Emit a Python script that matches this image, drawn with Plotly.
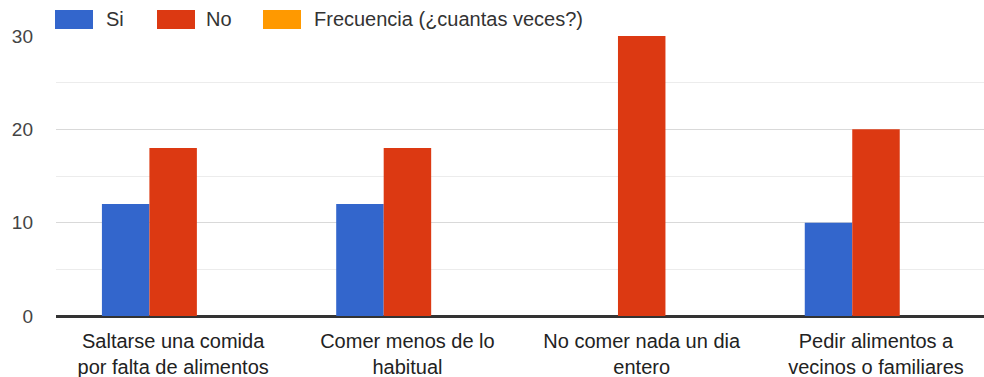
import plotly.graph_objects as go

categories = [
    "Saltarse una comida<br>por falta de alimentos",
    "Comer menos de lo<br>habitual",
    "No comer nada un dia<br>entero",
    "Pedir alimentos a<br>vecinos o familiares",
]
si_values = [12, 12, 0, 10]
no_values = [18, 18, 30, 20]
frecuencia_values = [0, 0, 0, 0]

series_names = ["Si", "No", "Frecuencia (¿cuantas veces?)"]
series_colors = ["#3366cc", "#dc3912", "#ff9900"]
y_ticks = [0, 10, 20, 30]

W, H = 984, 377
M_L, M_R, M_T, M_B = 56, 0, 36, 61
plot_w = W - M_L - M_R
plot_h = H - M_T - M_B

FONT = "Liberation Sans, Arial, sans-serif"

fig = go.Figure()
for name, vals, color in zip(series_names, [si_values, no_values, frecuencia_values], series_colors):
    fig.add_trace(go.Bar(
        x=list(range(len(categories))),
        y=vals,
        name=name,
        marker=dict(color=color, line=dict(width=0)),
        showlegend=False,
        hoverinfo="skip",
    ))

# Legend drawn as swatches + labels above the plot area
def px_to_paper_x(px):
    return (px - M_L) / plot_w

def px_to_paper_y(py):
    return (H - M_B - py) / plot_h

legend_swatch_x = [55, 157, 263]
legend_text_x = [104, 204, 312]
shapes = []
annotations = []
for sx, tx, name, color in zip(legend_swatch_x, legend_text_x, series_names, series_colors):
    shapes.append(dict(
        type="rect", xref="paper", yref="paper",
        x0=px_to_paper_x(sx), x1=px_to_paper_x(sx + 38),
        y0=px_to_paper_y(29), y1=px_to_paper_y(10),
        fillcolor=color, line=dict(width=0),
    ))
    annotations.append(dict(
        xref="paper", yref="paper",
        x=px_to_paper_x(tx), y=px_to_paper_y(19.5),
        xanchor="left", yanchor="middle",
        text=name, showarrow=False,
        font=dict(family=FONT, size=20, color="#333333"),
    ))

fig.update_layout(
    width=W, height=H,
    margin=dict(l=M_L, r=M_R, t=M_T, b=M_B),
    paper_bgcolor="white",
    plot_bgcolor="white",
    barmode="group",
    bargap=0.392,
    bargroupgap=0,
    shapes=shapes,
    annotations=annotations,
    xaxis=dict(
        range=[-0.5, 3.461],
        tickmode="array",
        tickvals=list(range(len(categories))),
        ticktext=categories,
        showgrid=False,
        zeroline=False,
        showline=False,
        ticks="",
        ticklabelstandoff=11,
        tickfont=dict(family=FONT, size=20, color="#222222"),
        fixedrange=True,
    ),
    yaxis=dict(
        range=[0, 30],
        tickmode="array",
        tickvals=y_ticks,
        showgrid=True,
        gridcolor="#d9d9d9",
        gridwidth=1,
        zeroline=True,
        zerolinecolor="#333333",
        zerolinewidth=3,
        showline=False,
        ticks="",
        ticklabelstandoff=22,
        tickfont=dict(family=FONT, size=19, color="#444444"),
        minor=dict(dtick=5, tick0=0, showgrid=True, gridcolor="#ececec", gridwidth=1),
        fixedrange=True,
    ),
)

fig.write_html("out.html")
